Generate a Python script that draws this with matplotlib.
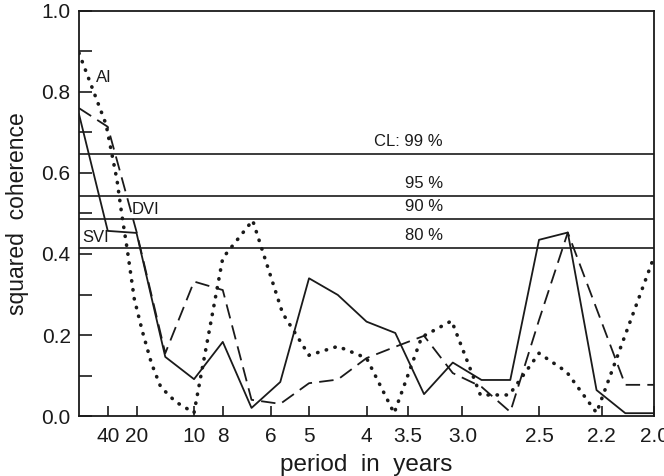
import numpy as np
import matplotlib
matplotlib.use('Agg')
import matplotlib.pyplot as plt

plt.rcParams['font.family'] = ['Liberation Sans', 'DejaVu Sans']

# frequency grid (cycles per year), plotted linearly; ticks labelled in period
freq = [0.0, 0.025, 0.05, 0.075, 0.1, 0.125, 0.15, 0.175, 0.2, 0.225, 0.25,
        0.275, 0.3, 0.325, 0.35, 0.375, 0.4, 0.425, 0.45, 0.475, 0.5]

svi = [0.745, 0.457, 0.452, 0.146, 0.091, 0.183, 0.02, 0.084, 0.34, 0.299,
       0.233, 0.205, 0.054, 0.132, 0.089, 0.089, 0.435, 0.453, 0.064, 0.007,
       0.007]

dvi = [0.76, 0.714, 0.455, 0.155, 0.332, 0.311, 0.04, 0.03, 0.081, 0.09,
       0.143, 0.171, 0.198, 0.106, 0.072, 0.01, 0.237, 0.453, 0.265, 0.077,
       0.077]

ai_freq = [0.0, 0.0235, 0.033, 0.037, 0.042, 0.048, 0.055, 0.063, 0.071,
           0.084, 0.1, 0.125, 0.151, 0.177, 0.2, 0.225, 0.25, 0.274, 0.298,
           0.324, 0.349, 0.374, 0.4, 0.424, 0.45, 0.5]
ai = [0.896, 0.72, 0.583, 0.501, 0.41, 0.29, 0.21, 0.13, 0.072, 0.035, 0.008,
      0.39, 0.483, 0.254, 0.15, 0.172, 0.143, 0.007, 0.195, 0.235, 0.052,
      0.052, 0.155, 0.109, 0.008, 0.393]

# confidence levels
cl_values = [0.647, 0.544, 0.486, 0.415]
cl_labels = ['CL: 99 %', '95 %', '90 %', '80 %']

periods = [40, 20, 10, 8, 6, 5, 4, 3.5, 3.0, 2.5, 2.2, 2.0]
period_labels = ['40', '20', '10', '8', '6', '5', '4', '3.5', '3.0', '2.5',
                 '2.2', '2.0']

ink = '#1a1a1a'

fig = plt.figure(figsize=(6.64, 4.76), dpi=100)
ax = fig.add_axes([0.119, 0.126, 0.866, 0.851])

for v in cl_values:
    ax.axhline(v, color=ink, lw=1.2)
for v, lab in zip(cl_values, cl_labels):
    ax.text(0.3165, v + 0.012, lab, ha='right', va='bottom', fontsize=12,
            color=ink)

ax.plot(freq, svi, color=ink, lw=1.3)
ax.plot(freq, dvi, color=ink, lw=1.3, dashes=(8, 4))
ax.plot(ai_freq, ai, color=ink, lw=2.6, linestyle=(0, (0.1, 2.4)),
        dash_capstyle='round')

ax.text(0.0217, 0.835, 'AI', ha='center', va='center', fontsize=12, color=ink)
ax.text(0.058, 0.509, 'DVI', ha='center', va='center', fontsize=12, color=ink)
ax.text(0.0145, 0.44, 'SVI', ha='center', va='center', fontsize=12, color=ink)

ax.set_xlim(0, 0.5)
ax.set_ylim(0, 1.0)
ax.set_xticks([1.0 / p for p in periods])
ax.set_xticklabels(period_labels)
ax.set_yticks(np.arange(0, 1.01, 0.2))
ax.set_yticklabels(['0.0', '0.2', '0.4', '0.6', '0.8', '1.0'])
ax.set_yticks(np.arange(0.1, 1.0, 0.2), minor=True)

ax.tick_params(axis='x', direction='in', length=7, width=1.2, pad=8,
               labelsize=15, colors=ink, top=False)
ax.tick_params(axis='y', which='both', direction='in', length=9.5,
               width=1.2, pad=6, labelsize=15, colors=ink, right=False)

for s in ax.spines.values():
    s.set_linewidth(1.3)
    s.set_color(ink)

ax.set_xlabel('period  in  years', fontsize=17.5, color=ink, labelpad=6)
ax.set_ylabel('squared  coherence', fontsize=16.5, color=ink, labelpad=9)

fig.savefig('out.png', dpi=100)
